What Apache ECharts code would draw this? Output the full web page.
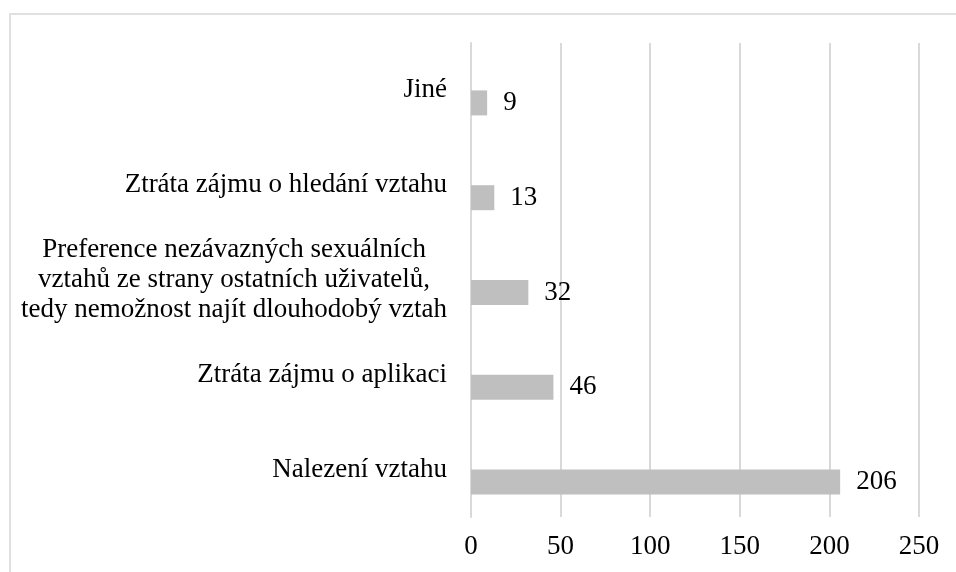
<!DOCTYPE html>
<html lang="cs">
<head>
    <meta charset="UTF-8">
    <title>Důvody ukončení používání aplikace</title>
    <script src="https://cdn.jsdelivr.net/npm/echarts@6/dist/echarts.min.js"></script>
    <style>
        html, body { margin: 0; padding: 0; background: #fff; }
        #chart { width: 956px; height: 572px; }
    </style>
</head>
<body>
<div id="chart"></div>
<script>
    // kategorie odspodu nahoru
    const categories = [
        'Nalezení vztahu',
        'Ztráta zájmu o aplikaci',
        'Preference nezávazných sexuálních\nvztahů ze strany ostatních uživatelů,\ntedy nemožnost najít dlouhodobý vztah',
        'Ztráta zájmu o hledání vztahu',
        'Jiné'
    ];
    const counts = [206, 46, 32, 13, 9];
    const emptySlot = [0, 0, 0, 0, 0];   // prázdná řada, posune sloupce dolů jako v Excelu
    const axisTicks = [0, 50, 100, 150, 200, 250];

    const font = '"Liberation Serif", "Times New Roman", serif';
    const gridColor = '#d9d9d9';

    let chart = echarts.init(document.getElementById('chart'));
    let option = {
        animation: false,
        backgroundColor: '#fff',
        graphic: [{
            type: 'rect',
            shape: {x: 10, y: 14, width: 960, height: 580},
            style: {fill: 'none', stroke: '#e0e0e0', lineWidth: 2},
            silent: true
        }],
        grid: {left: 471, right: 37, top: 43, bottom: 55},
        xAxis: {
            type: 'value',
            min: axisTicks[0],
            max: axisTicks[axisTicks.length - 1],
            interval: axisTicks[1] - axisTicks[0],
            axisLine: {show: false},
            axisTick: {show: false},
            splitLine: {lineStyle: {color: gridColor, width: 2}},
            axisLabel: {fontFamily: font, fontSize: 27, color: '#000', margin: 16}
        },
        yAxis: {
            type: 'category',
            data: categories,
            axisLine: {lineStyle: {color: gridColor, width: 2}},
            axisTick: {show: false},
            axisLabel: {
                margin: 24,
                formatter: function (v) {
                    return v.split('\n').map(s => '{c|' + s + '}').join('\n');
                },
                rich: {
                    c: {fontFamily: font, fontSize: 27, color: '#000', align: 'center', lineHeight: 30}
                }
            }
        },
        series: [
            {
                type: 'bar',
                data: emptySlot,
                barWidth: 25,
                barGap: '0%',
                silent: true,
                itemStyle: {opacity: 0}
            },
            {
                type: 'bar',
                data: counts,
                barWidth: 25,
                barGap: '0%',
                itemStyle: {color: '#bfbfbf'},
                label: {
                    show: true,
                    position: 'right',
                    distance: 16,
                    fontFamily: font,
                    fontSize: 27,
                    color: '#000'
                }
            }
        ]
    };
    chart.setOption(option);
</script>
</body>
</html>
